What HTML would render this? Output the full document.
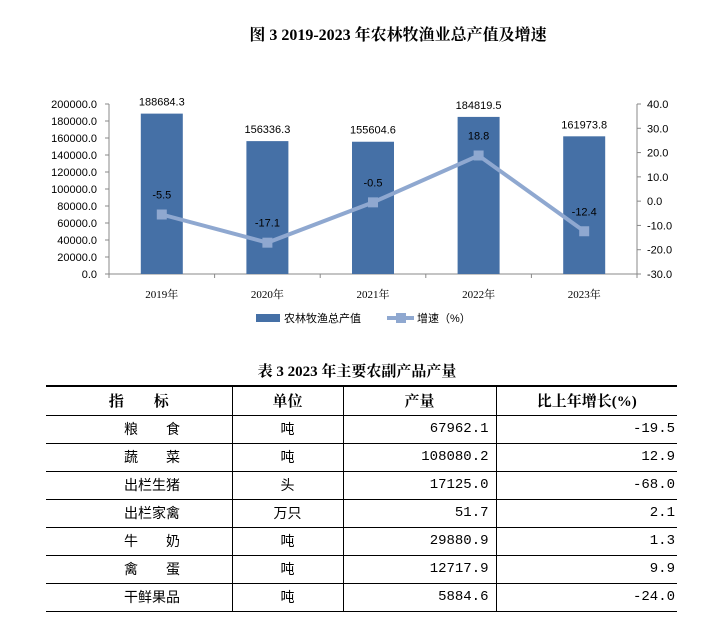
<!DOCTYPE html>
<html><head><meta charset="utf-8">
<style>
body{margin:0;background:#fff;width:714px;height:640px;overflow:hidden;position:relative;font-family:"Liberation Serif","Noto Serif CJK SC",serif;}
.t{position:absolute;white-space:nowrap}
</style></head>
<body>
<div class="t" style="left:0;width:796px;text-align:center;top:22px;font-size:16px;font-weight:bold;">图 3  2019-2023 年农林牧渔业总产值及增速</div>
<svg id="chart" width="714" height="340" style="position:absolute;left:0;top:0" font-family="Liberation Sans, Noto Sans CJK SC, sans-serif"></svg>
<div class="t" style="left:0;width:714px;text-align:center;top:360px;font-size:15px;font-weight:bold;">表 3  2023 年主要农副产品产量</div>
<table style="position:absolute;left:46px;top:385px;width:631px;border-collapse:collapse;font-family:'Liberation Mono','Noto Sans CJK SC',sans-serif;font-size:14px;">
<colgroup><col style="width:186px"><col style="width:111px"><col style="width:153px"><col></colgroup>
<tbody id="tb"></tbody>
</table>
<script>
const years=["2019年","2020年","2021年","2022年","2023年"];
const outputValues=[188684.3,156336.3,155604.6,184819.5,161973.8];
const growthRates=[-5.5,-17.1,-0.5,18.8,-12.4];
const leftTicks=[0,20000,40000,60000,80000,100000,120000,140000,160000,180000,200000];
const rightTicks=[-30,-20,-10,0,10,20,30,40];
const NS="http://www.w3.org/2000/svg";
const svg=document.getElementById('chart');
const X0=109,X1=637,Y0=274,Y1=104;
const band=(X1-X0)/years.length;
const xC=i=>X0+band*(i+0.5);
const yL=v=>Y0-(v/200000)*(Y0-Y1);
const yR=v=>Y0-((v+30)/70)*(Y0-Y1);
function el(t,a,p){const e=document.createElementNS(NS,t);for(const k in a)e.setAttribute(k,a[k]);(p||svg).appendChild(e);return e;}
function tx(x,y,s,anchor,size,fill){const e=el('text',{x:x,y:y,'text-anchor':anchor,'font-size':size||11,fill:fill||'#000'});e.textContent=s;return e;}
// axes
let a=el('line',{x1:X0,y1:Y1,x2:X0,y2:Y0,stroke:'#888'});
a=el('line',{x1:X1,y1:Y1,x2:X1,y2:Y0,stroke:'#888'});
a=el('line',{x1:X0,y1:Y0,x2:X1,y2:Y0,stroke:'#888'});
leftTicks.forEach(v=>{el('line',{x1:X0-4,x2:X0,y1:yL(v),y2:yL(v),stroke:'#888'});const t=tx(X0-12,yL(v)+4,v.toFixed(1),'end',11);});
rightTicks.forEach(v=>{el('line',{x1:X1,x2:X1+4,y1:yR(v),y2:yR(v),stroke:'#888'});const t=tx(X1+10,yR(v)+4,v.toFixed(1),'start',11);});
for(let i=0;i<=years.length;i++){el('line',{x1:X0+band*i,x2:X0+band*i,y1:Y0,y2:Y0+4,stroke:'#888'});}
years.forEach((y,i)=>{const t=tx(xC(i),Y0+24,y,'middle',11);t.setAttribute('font-family','Liberation Serif, Noto Serif CJK SC, serif');});
outputValues.forEach((v,i)=>{const b=el('rect',{x:xC(i)-21,y:yL(v),width:42,height:Y0-yL(v),fill:'#4570a6'});
const t=tx(xC(i),yL(v)-8,v.toFixed(1),'middle',11);});
const pts=growthRates.map((v,i)=>xC(i)+','+yR(v)).join(' ');
const pl=el('polyline',{points:pts,fill:'none',stroke:'#8fa8d0','stroke-width':4});
growthRates.forEach((v,i)=>{const m=el('rect',{x:xC(i)-5,y:yR(v)-5,width:10,height:10,fill:'#8fa8d0'});
const t=tx(xC(i),yR(v)-16,v.toFixed(1),'middle',11);});
// legend
let g=el('g',{});
el('rect',{x:256,y:314,width:24,height:8,fill:'#4570a6'},g);
let t=tx(284,322,'农林牧渔总产值','start',11);g.appendChild(t);
g=el('g',{});
el('line',{x1:387,x2:414,y1:318,y2:318,stroke:'#8fa8d0','stroke-width':4},g);
el('rect',{x:396,y:313,width:10,height:10,fill:'#8fa8d0'},g);
t=tx(417,322,'增速（%）','start',11);g.appendChild(t);
// table
const names=["粮　　食","蔬　　菜","出栏生猪","出栏家禽","牛　　奶","禽　　蛋","干鲜果品"];
const units=["吨","吨","头","万只","吨","吨","吨"];
const amounts=["67962.1","108080.2","17125.0","51.7","29880.9","12717.9","5884.6"];
const changes=["-19.5","12.9","-68.0","2.1","1.3","9.9","-24.0"];
const tb=document.getElementById('tb');
const bd='border-top:2px solid #000;';
let h='<tr style="height:29px;font-weight:bold;font-family:\'Liberation Serif\',\'Noto Serif CJK SC\',serif;font-size:15px">'+
['指　　标','单位','产量','比上年增长(%)'].map((s,i)=>'<th style="'+bd+'border-bottom:1px solid #000;'+(i<3?'border-right:1px solid #000;':'')+'text-align:center;padding:0">'+s+'</th>').join('')+'</tr>';
names.forEach((n,i)=>{h+='<tr style="height:28px">'+
'<td style="border-bottom:1px solid #000;border-right:1px solid #000;padding:0 0 0 78px">'+n+'</td>'+
'<td style="border-bottom:1px solid #000;border-right:1px solid #000;text-align:center;padding:0">'+units[i]+'</td>'+
'<td style="border-bottom:1px solid #000;border-right:1px solid #000;text-align:right;padding:0 7px 0 0">'+amounts[i]+'</td>'+
'<td style="border-bottom:1px solid #000;text-align:right;padding:0 2px 0 0">'+changes[i]+'</td></tr>';});
tb.innerHTML=h;
</script>
</body></html>
